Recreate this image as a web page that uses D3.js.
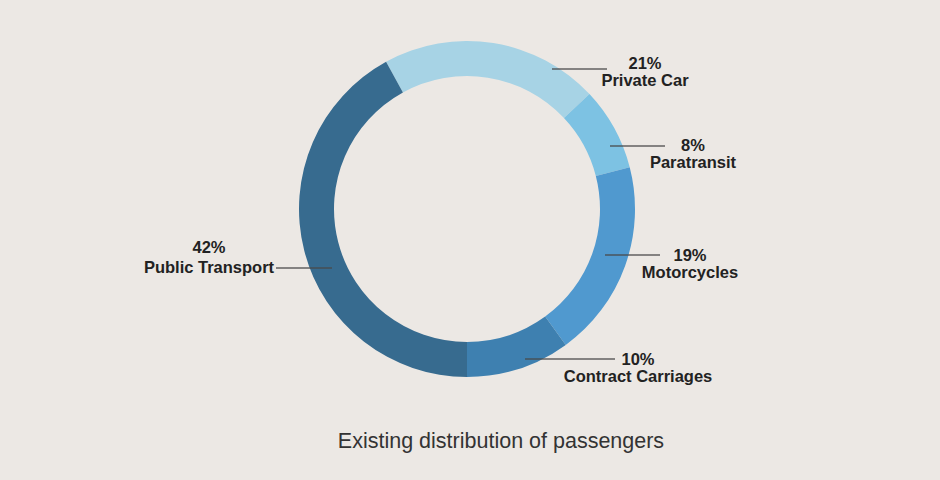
<!DOCTYPE html>
<html>
<head>
<meta charset="utf-8">
<script src="https://cdn.jsdelivr.net/npm/d3@7"></script>
<style>
  html, body { margin: 0; padding: 0; background: #ece8e4; }
  svg { display: block; }
</style>
</head>
<body>
<div id="chart"></div>
<script>
// ---- data ----
const categories = ["Private Car", "Paratransit", "Motorcycles", "Contract Carriages", "Public Transport"];
const shares = [21, 8, 19, 10, 42];
const colors = ["#a7d3e5", "#7dc2e3", "#5099cf", "#3e80b0", "#376b8f"];
const title = "Existing distribution of passengers";

// ---- label layout (positions only) ----
const labelLayout = [
  { x1: 552, x2: 607, y: 69,  tx: 645, ty1: 69,  ty2: 86 },
  { x1: 610, x2: 665, y: 146, tx: 693, ty1: 151, ty2: 168 },
  { x1: 605, x2: 660, y: 255, tx: 690, ty1: 261, ty2: 278 },
  { x1: 525, x2: 615, y: 359, tx: 638, ty1: 365, ty2: 382 },
  { x1: 276, x2: 332, y: 268, tx: 209, ty1: 253, ty2: 273 }
];

const W = 940, H = 480;
const cx = 467, cy = 209, rOuter = 168, rInner = 133;

const svg = d3.select("#chart").append("svg")
  .attr("width", W).attr("height", H);

svg.append("rect").attr("width", W).attr("height", H).attr("fill", "#ece8e4");

const start = -0.08 * 2 * Math.PI;
const pie = d3.pie().sort(null).value(d => d)
  .startAngle(start).endAngle(start + 2 * Math.PI);
const arc = d3.arc().innerRadius(rInner).outerRadius(rOuter);
const color = d3.scaleOrdinal().domain(categories).range(colors);

const g = svg.append("g").attr("transform", `translate(${cx},${cy})`);
g.selectAll("path").data(pie(shares)).enter().append("path")
  .attr("d", arc)
  .attr("fill", (d, i) => color(categories[i]));

// leader lines & labels
const lab = svg.append("g");
categories.forEach((c, i) => {
  const L = labelLayout[i];
  lab.append("line")
    .attr("x1", L.x1).attr("x2", L.x2).attr("y1", L.y).attr("y2", L.y)
    .attr("stroke", "#4a4a4a").attr("stroke-width", 1.5).attr("opacity", 0.85);
  lab.append("text")
    .attr("x", L.tx).attr("y", L.ty1)
    .attr("text-anchor", "middle")
    .attr("font-family", "Liberation Sans, Arial, sans-serif")
    .attr("font-weight", "bold").attr("font-size", 16.5)
    .attr("fill", "#222")
    .text(shares[i] + "%");
  lab.append("text")
    .attr("x", L.tx).attr("y", L.ty2)
    .attr("text-anchor", "middle")
    .attr("font-family", "Liberation Sans, Arial, sans-serif")
    .attr("font-weight", "bold").attr("font-size", 16.5)
    .attr("fill", "#222")
    .text(c);
});

svg.append("text")
  .attr("x", 501).attr("y", 448)
  .attr("text-anchor", "middle")
  .attr("font-family", "Liberation Sans, Arial, sans-serif")
  .attr("font-size", 21.5)
  .attr("fill", "#333")
  .text(title);
</script>
</body>
</html>
